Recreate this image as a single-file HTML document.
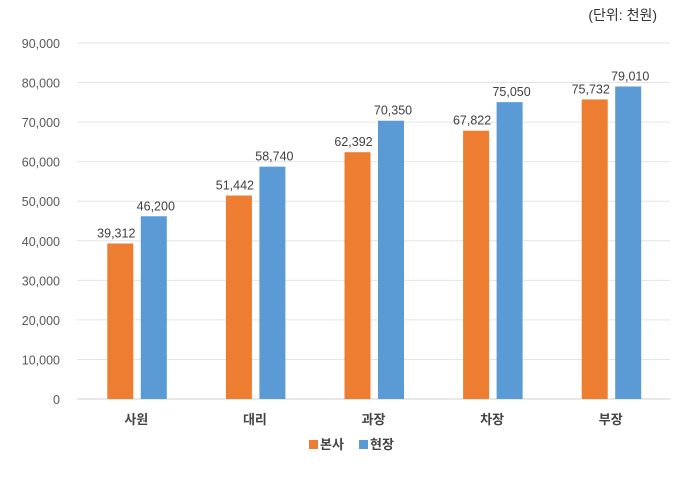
<!DOCTYPE html>
<html><head><meta charset="utf-8"><style>
body{margin:0;background:#fff;}
svg text{font-family:"Liberation Sans","Noto Sans CJK KR",sans-serif;}
</style></head><body>
<svg id="chart" width="700" height="483" xmlns="http://www.w3.org/2000/svg">
<rect width="700" height="483" fill="#fff"/>
<text x="657" y="20" text-anchor="end" font-size="14" fill="#333">(단위: 천원)</text>
<g id="grid"></g><g id="bars"></g><g id="labels"></g>
<g>
<rect x="309" y="440" width="9" height="9" fill="#ED7D31"/>
<text x="320" y="449" font-size="13" font-weight="bold" fill="#444">본사</text>
<rect x="359" y="440" width="9" height="9" fill="#5B9BD5"/>
<text x="370" y="449" font-size="13" font-weight="bold" fill="#444">현장</text>
</g>
</svg>
<script>
const categories=["사원","대리","과장","차장","부장"];
const hqValues=[39312,51442,62392,67822,75732];
const siteValues=[46200,58740,70350,75050,79010];
const yTicks=[0,10000,20000,30000,40000,50000,60000,70000,80000,90000];
const NS="http://www.w3.org/2000/svg";
const x0=77,x1=670,yTop=43,yBot=399,yMax=90000;
const y=v=>yBot-(v/yMax)*(yBot-yTop);
const step=(x1-x0)/categories.length;
const cx=i=>x0+step*(i+0.5);
const fmt=v=>v.toLocaleString("en-US");
function mk(tag,attrs,parent,txt){const e=document.createElementNS(NS,tag);for(const k in attrs)e.setAttribute(k,attrs[k]);if(txt!==undefined)e.textContent=txt;parent.appendChild(e);return e;}
const grid=document.getElementById("grid"),bars=document.getElementById("bars"),labels=document.getElementById("labels");
yTicks.forEach(t=>{
 const l=mk("line",{x1:x0,x2:x1,y1:y(t),y2:y(t),stroke:t===0?"#d0d0d0":"#e4e4e4","stroke-width":1},grid);
 
 
 const tx=mk("text",{x:60,y:y(t)+5,"text-anchor":"end","font-size":12.5,fill:"#595959"},grid,fmt(t));
 
 
});
const bw=26;
categories.forEach((c,i)=>{
 const series=[[hqValues[i],"#ED7D31",cx(i)-29,"hq"],[siteValues[i],"#5B9BD5",cx(i)+4.5,"site"]];
 series.forEach(([v,col,bx,nm])=>{
  const r=mk("rect",{x:bx,y:y(v),width:bw,height:yBot-y(v),fill:col},bars);
  
  
  const t=mk("text",{x:bx+bw/2-(nm==="hq"?4:-2),y:y(v)-6,"text-anchor":"middle","font-size":12.5,fill:"#404040"},labels,fmt(v));
  
  
 });
 const xl=mk("text",{x:cx(i),y:424,"text-anchor":"middle","font-size":13,"font-weight":"bold",fill:"#444"},labels,c);
 
 
});
</script>
</body></html>
